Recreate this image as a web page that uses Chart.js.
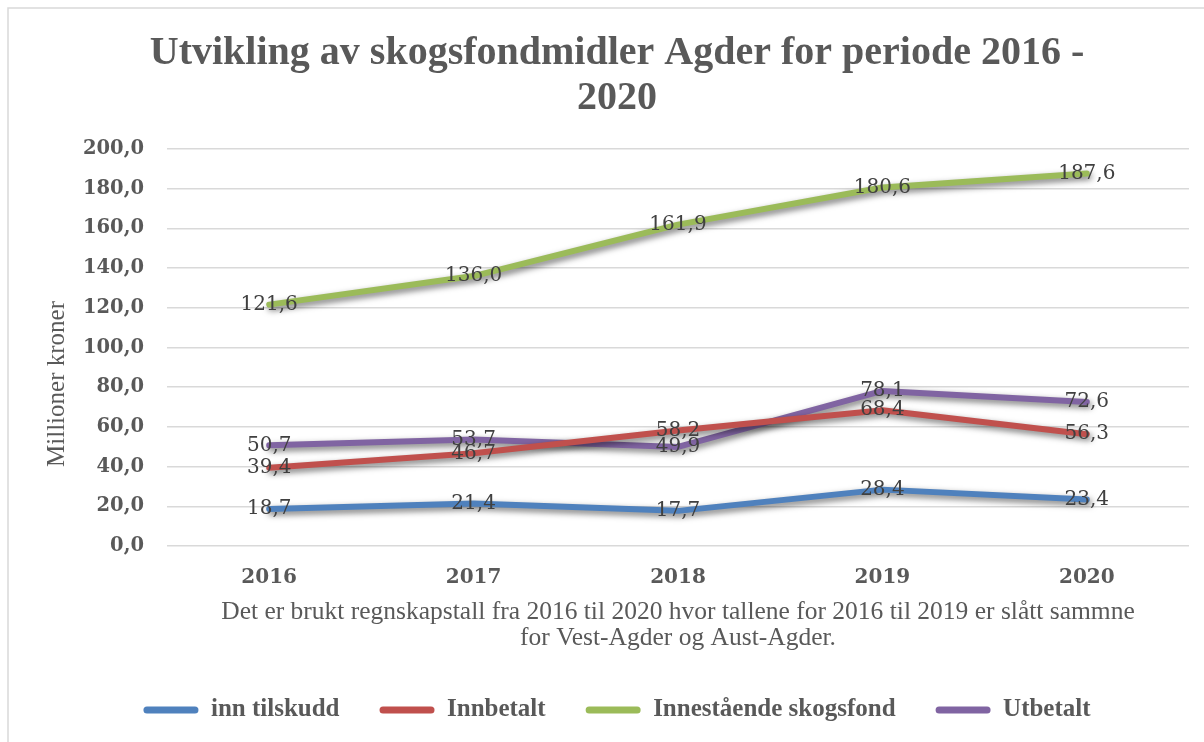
<!DOCTYPE html>
<html>
<head>
<meta charset="utf-8">
<script src="https://cdn.jsdelivr.net/npm/chart.js@4.4.1/dist/chart.umd.min.js"></script>
<style>
  html, body { margin: 0; padding: 0; background: #ffffff; }
  #wrap { width: 1204px; height: 742px; position: relative; }
</style>
</head>
<body>
<div id="wrap"><canvas id="c" width="1204" height="742"></canvas></div>
<script>
// ---- Data ----
const categories = ['2016', '2017', '2018', '2019', '2020'];
const innTilskudd = [18.7, 21.4, 17.7, 28.4, 23.4];
const innbetalt = [39.4, 46.7, 58.2, 68.4, 56.3];
const innestaende = [121.6, 136.0, 161.9, 180.6, 187.6];
const utbetalt = [50.7, 53.7, 49.9, 78.1, 72.6];
const seriesNames = ['inn tilskudd', 'Innbetalt', 'Innestående skogsfond', 'Utbetalt'];
const yMin = 0, yMax = 200, yStep = 20;

const titleLines = ['Utvikling av skogsfondmidler Agder for periode 2016 -', '2020'];
const yAxisTitle = 'Millioner kroner';
const xAxisTitle = ['Det er brukt regnskapstall fra 2016 til 2020 hvor tallene for 2016 til 2019 er slått sammne',
                    'for Vest-Agder og Aust-Agder.'];

const colors = ['#4F81BD', '#C0504D', '#9BBB59', '#8064A2'];
const fmt = v => Number(v).toFixed(1).replace('.', ',');

const serif = '"Liberation Serif", "Times New Roman", serif';
const digitSerif = '"DejaVu Serif", serif';
const textGray = '#595959';

// ---- Plugins ----
const framePlugin = {
  id: 'frame',
  beforeDraw(chart) {
    const ctx = chart.ctx;
    ctx.save();
    ctx.fillStyle = '#ffffff';
    ctx.fillRect(0, 0, chart.width, chart.height);
    ctx.strokeStyle = '#D9D9D9';
    ctx.lineWidth = 1.5;
    ctx.beginPath();
    ctx.moveTo(8, chart.height + 2);
    ctx.lineTo(8, 8);
    ctx.lineTo(chart.width + 2, 8);
    ctx.stroke();
    ctx.restore();
  }
};

const shadowPlugin = {
  id: 'lineShadow',
  beforeDatasetDraw(chart) {
    const ctx = chart.ctx;
    ctx.save();
    ctx.shadowColor = 'rgba(0,0,0,0.55)';
    ctx.shadowBlur = 6;
    ctx.shadowOffsetX = 2;
    ctx.shadowOffsetY = 3;
  },
  afterDatasetDraw(chart) {
    chart.ctx.restore();
  }
};

const labelPlugin = {
  id: 'valueLabels',
  afterDatasetsDraw(chart) {
    const ctx = chart.ctx;
    ctx.save();
    ctx.font = '20px ' + digitSerif;
    ctx.fillStyle = '#404040';
    ctx.textAlign = 'center';
    ctx.textBaseline = 'middle';
    chart.data.datasets.forEach((ds, di) => {
      const meta = chart.getDatasetMeta(di);
      if (meta.hidden) return;
      meta.data.forEach((pt, i) => {
        ctx.fillText(fmt(ds.data[i]), pt.x, pt.y);
      });
    });
    ctx.restore();
  }
};

const yTitlePlugin = {
  id: 'yTitle',
  afterDraw(chart) {
    const ctx = chart.ctx;
    ctx.save();
    ctx.translate(57, 384);
    ctx.rotate(-Math.PI / 2);
    ctx.font = '25px ' + serif;
    ctx.fillStyle = textGray;
    ctx.textAlign = 'center';
    ctx.textBaseline = 'middle';
    ctx.fillText(yAxisTitle, 0, 0);
    ctx.restore();
  }
};

const seriesData = [innTilskudd, innbetalt, innestaende, utbetalt];
const datasets = seriesNames.map((name, i) => ({
  label: name,
  data: seriesData[i],
  borderColor: colors[i],
  backgroundColor: colors[i],
  borderWidth: 6,
  borderCapStyle: 'round',
  borderJoinStyle: 'round',
  pointRadius: 0,
  pointHoverRadius: 0,
  tension: 0,
  fill: false
}));

new Chart(document.getElementById('c'), {
  type: 'line',
  data: { labels: categories, datasets },
  plugins: [framePlugin, shadowPlugin, labelPlugin, yTitlePlugin],
  options: {
    responsive: false,
    animation: false,
    devicePixelRatio: 1,
    layout: { padding: { left: 45, right: 15, top: 0, bottom: 9.5 } },
    plugins: {
      tooltip: { enabled: false },
      title: {
        display: true,
        text: titleLines,
        color: textGray,
        font: { family: serif, size: 40, weight: 'bold', lineHeight: 1.12 },
        padding: { top: 31.6, bottom: 27.8 }
      },
      legend: {
        display: true,
        position: 'bottom',
        labels: {
          color: textGray,
          font: { family: serif, size: 25, weight: 'bold' },
          boxWidth: 55,
          boxHeight: 7,
          padding: 40,
          useBorderRadius: true,
          borderRadius: 3.5,
          sort: (a, b) => a.datasetIndex - b.datasetIndex,
          generateLabels(chart) {
            return Chart.defaults.plugins.legend.labels.generateLabels(chart).map(l => ({
              ...l, lineWidth: 0, fillStyle: colors[l.datasetIndex], strokeStyle: colors[l.datasetIndex]
            }));
          }
        }
      }
    },
    scales: {
      x: {
        offset: true,
        grid: { display: false, drawTicks: false },
        border: { display: false },
        ticks: {
          color: textGray,
          font: { family: digitSerif, size: 20, weight: 'bold' },
          padding: 20
        },
        title: {
          display: true,
          text: xAxisTitle,
          color: textGray,
          font: { family: serif, size: 25.5, lineHeight: 26 / 25.5 },
          padding: { top: -10.5, bottom: 6 }
        }
      },
      y: {
        min: yMin,
        max: yMax,
        grid: { color: '#D9D9D9', lineWidth: 1.5, drawTicks: false },
        border: { display: false },
        ticks: {
          stepSize: yStep,
          color: textGray,
          font: { family: digitSerif, size: 19.5, weight: 'bold' },
          padding: 23,
          callback: v => fmt(v)
        },
        afterFit(scale) { scale.width = 122; }
      }
    }
  }
});
</script>
</body>
</html>
